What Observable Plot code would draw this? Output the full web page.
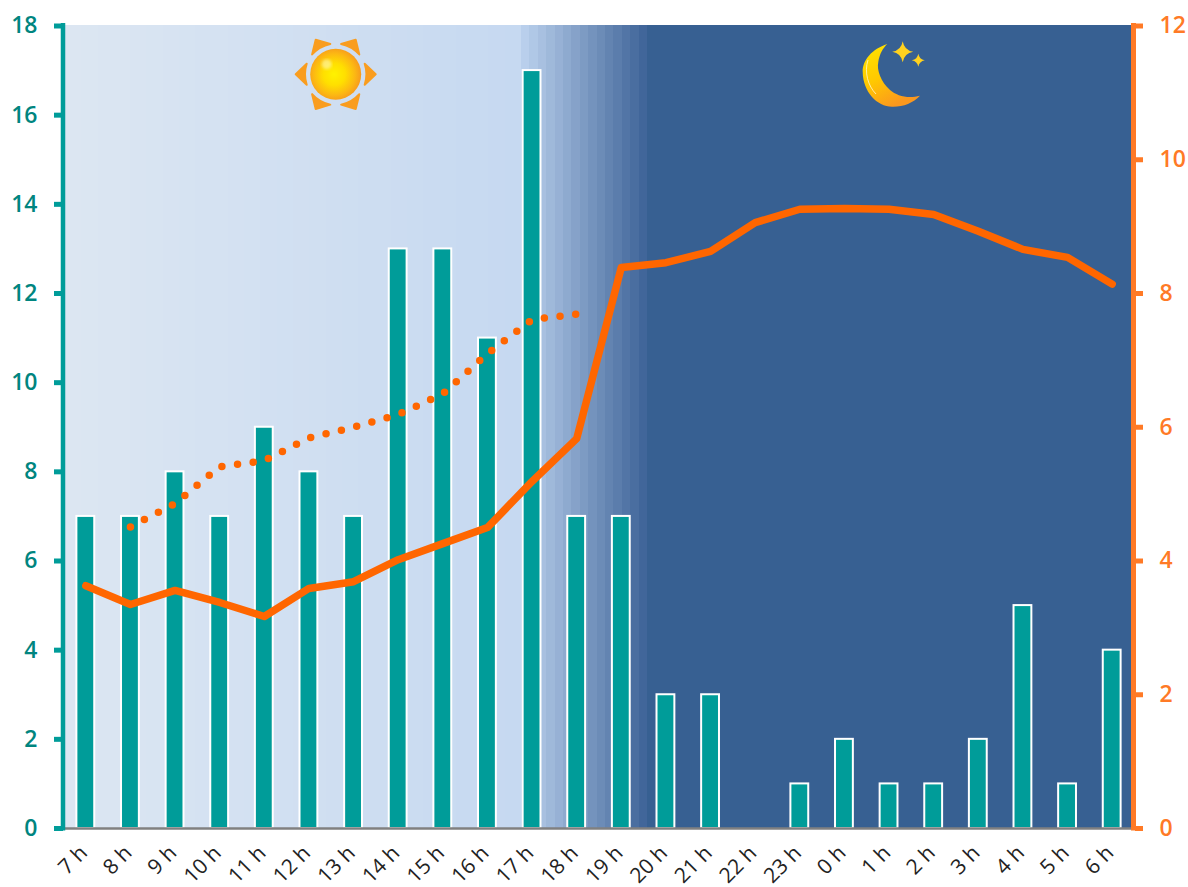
<!DOCTYPE html>
<html><head><meta charset="utf-8">
<script src="https://cdn.jsdelivr.net/npm/d3@7"></script>
<script src="https://cdn.jsdelivr.net/npm/@observablehq/plot@0.6"></script>
<style>html,body{margin:0;padding:0;background:#fff}svg{display:block}</style>
</head><body><div id="chart"></div>
<script>
const hours = ["7 h","8 h","9 h","10 h","11 h","12 h","13 h","14 h","15 h","16 h","17 h","18 h","19 h","20 h","21 h","22 h","23 h","0 h","1 h","2 h","3 h","4 h","5 h","6 h"];
const barValues = [7,7,8,7,9,8,7,13,13,11,17,7,7,3,3,0,1,2,1,1,2,5,1,4];
const solidLine = [3.63,3.35,3.56,3.38,3.17,3.59,3.69,4.02,4.26,4.5,5.19,5.83,8.39,8.46,8.63,9.06,9.26,9.27,9.26,9.18,8.93,8.66,8.54,8.14];
const dottedHours = ["8 h","9 h","10 h","11 h","12 h","13 h","14 h","15 h","16 h","17 h","18 h"];
const dottedLine = [4.51,4.86,5.41,5.5,5.84,6,6.19,6.5,7.1,7.61,7.69];
const leftTicks = [0,2,4,6,8,10,12,14,16,18];
const rightTicks = [0,2,4,6,8,10,12];
const ratio = 18/12;
const TEAL="#009c99", TEALTXT="#00857f", ORANGE="#ff7a26", LINE="#ff6600";

const barsData = hours.map((h,i)=>({h,v:barValues[i]})).filter(d=>d.v>0);
const solidData = hours.map((h,i)=>({h,v:solidLine[i]}));
const dottedData = dottedHours.map((h,i)=>({h,v:dottedLine[i]}));

const ns="http://www.w3.org/2000/svg";
function el(name,attrs,parent){const e=document.createElementNS(ns,name);for(const k in attrs)e.setAttribute(k,attrs[k]);if(parent)parent.appendChild(e);return e;}

function background(index,scales,values,dim){
  const g=el("g",{"shape-rendering":"crispEdges"});
  const l=65,r=1131.5,t=25,b=dim.height-dim.marginBottom;
  el("rect",{x:l,y:t,width:r-l,height:b-t,fill:"#376092"},g);
  const strips=(s0,s1,n,c)=>{for(let i=0;i<n;i++){const x0=Math.round(s0+(s1-s0)*i/n),x1=Math.round(s0+(s1-s0)*(i+1)/n);el("rect",{x:x0,y:t,width:x1-x0,height:b-t,fill:c(i/(n-1))},g);}};
  strips(l,521,28,d3.interpolateRgb("#dce6f2","#c6d9f1"));
  strips(521,647,15,d3.interpolateRgb("#b9cfec","#41669a"));
  return g;
}
function icons(){
  const g=el("g",{});
  const defs=el("defs",{},g);
  const rg=el("radialGradient",{id:"sunG",cx:"0.47",cy:"0.5",r:"0.54"},defs);
  [["0%","#fff200"],["40%","#ffdf00"],["75%","#fcb813"],["100%","#f7981e"]].forEach(([o,c])=>el("stop",{offset:o,"stop-color":c},rg));
  const mg=el("linearGradient",{id:"moonG",x1:"0",y1:"0",x2:"0.5",y2:"1"},defs);
  [["0%","#ffe600"],["55%","#ffc800"],["100%","#fb981e"]].forEach(([o,c])=>el("stop",{offset:o,"stop-color":c},mg));
  const blur=el("filter",{id:"soft"},defs);el("feGaussianBlur",{stdDeviation:1.6},blur);
  const s=el("g",{transform:"translate(335.7,74.3)"},g);
  [0,60,120,180,240,300].forEach(a=>{
    el("path",{d:"M-10.5,-29 Q0,-32.5 10.5,-29 L0,-40 Z",fill:"#f99d1f",stroke:"#f99d1f","stroke-width":2,"stroke-linejoin":"round",transform:`rotate(${a+30})`},s);
  });
  el("circle",{r:25.5,fill:"url(#sunG)"},s);
  el("circle",{cx:-9,cy:-10,r:5,fill:"#fff6a0",opacity:0.7,filter:"url(#soft)"},s);
  const m=el("g",{},g);
  el("path",{d:"M887.3,44 C872,49 862.5,60 862.7,72 C863,92 877,106.5 892,106.7 C903,107 913,103 920,95.7 C908,99 897,96 890,90 C881,82 876.5,70 878.3,62 C879.5,54 883,48 887.3,44 Z",fill:"url(#moonG)"},m);
  el("path",{d:"M868,60 C864,72 868,86 876,94",fill:"none",stroke:"#fff8d0","stroke-width":1,opacity:0.8},m);
  const star=(cx,cy,a,b)=>el("path",{d:`M${cx},${cy-a} Q${cx+b},${cy-b} ${cx+a},${cy} Q${cx+b},${cy+b} ${cx},${cy+a} Q${cx-b},${cy+b} ${cx-a},${cy} Q${cx-b},${cy-b} ${cx},${cy-a} Z`,fill:"#ffd21f"},m);
  star(902.7,51.7,10.5,1.5); star(918.3,60.3,6.5,1);
  return g;
}

const chart=Plot.plot({
  width:1188,height:887,
  marginLeft:63,marginRight:54,marginTop:25.5,marginBottom:59,
  style:{background:"#fff",overflow:"visible"},
  x:{domain:hours,label:null,paddingInner:0.6,paddingOuter:0.3,align:0.5,round:false,axis:null},
  y:{domain:[0,18],label:null,axis:null},
  marks:[
    background,
    Plot.barY(barsData,{x:"h",y:"v",fill:TEAL,stroke:"#fff",strokeWidth:2}),
    Plot.line(dottedData,{x:"h",y:d=>d.v*ratio,stroke:LINE,strokeWidth:7.5,strokeLinecap:"round",strokeDasharray:"0 15.78",curve:"linear"}),
    Plot.line(solidData,{x:"h",y:d=>d.v*ratio,stroke:LINE,strokeWidth:7.5,strokeLinejoin:"round",strokeLinecap:"round",curve:"linear"}),
    Plot.ruleY([0],{stroke:"#808080",strokeWidth:2.5}),
    (i,s,v,d)=>{const g=el("g",{});el("line",{x1:63,x2:63,y1:s.y(18)-2.5,y2:s.y(0)+2.5,stroke:TEAL,"stroke-width":4.5},g);el("line",{x1:1133.5,x2:1133.5,y1:s.y(18)-2.5,y2:s.y(0)+2.5,stroke:ORANGE,"stroke-width":5},g);return g;},
    Plot.axisY(leftTicks,{anchor:"left",label:null,stroke:TEAL,strokeWidth:5,tickSize:9,tickPadding:17,fill:TEALTXT,fontSize:23,fontWeight:600,fontFamily:"Open Sans"}),
    Plot.axisY(rightTicks.map(d=>d*ratio),{anchor:"right",label:null,stroke:ORANGE,strokeWidth:5,tickSize:8,tickPadding:17,fill:ORANGE,fontSize:23,fontWeight:600,fontFamily:"Open Sans",tickFormat:d=>d/ratio}),
    Plot.axisX({anchor:"bottom",tickSize:0,tickPadding:14,tickRotate:-45,fontSize:21,fill:"#222",fontFamily:"Open Sans",label:null,dx:-2,dy:7}),
    icons
  ]
});
document.getElementById("chart").appendChild(chart);
</script></body></html>
